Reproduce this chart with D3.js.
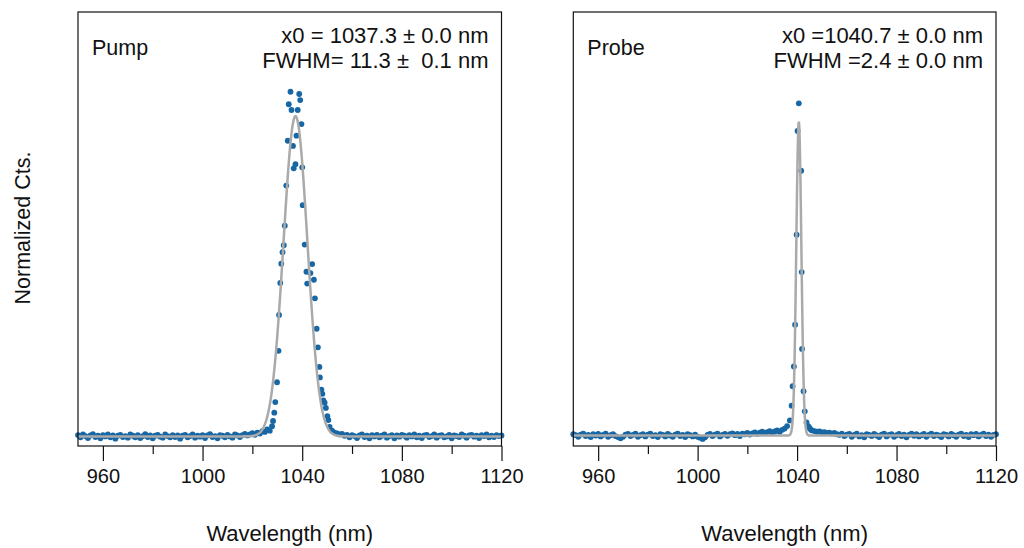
<!DOCTYPE html>
<html>
<head>
<meta charset="utf-8">
<script src="https://cdn.jsdelivr.net/npm/d3@7"></script>
<style>
body { margin:0; background:#fff; }
text { font-family:"Liberation Sans", Arial, sans-serif; fill:#111; }
</style>
</head>
<body>
<svg id="chart" width="1024" height="548"></svg>
<script>
// spectra: [wavelength (nm), normalized counts]
var pumpData = [
  [950,.004],[951,-.003],[952,.006],[953,.001],[954,-.005],[955,.003],[956,.007],[957,-.002],[958,.002],[959,-.006],
  [960,.004],[961,.000],[962,.006],[963,-.003],[964,.003],[965,-.007],[966,.002],[967,.005],[968,-.002],[969,.001],
  [970,-.004],[971,.006],[972,.002],[973,-.003],[974,.004],[975,-.005],[976,.001],[977,.007],[978,-.002],[979,.003],
  [980,-.006],[981,.002],[982,.005],[983,-.001],[984,-.004],[985,.006],[986,.001],[987,-.003],[988,.004],[989,-.002],
  [990,.003],[991,-.007],[992,.002],[993,.005],[994,-.003],[995,.001],[996,.006],[997,-.004],[998,.002],[999,-.001],
  [1000,.004],[1001,-.005],[1002,.003],[1003,.007],[1004,-.002],[1005,.001],[1006,-.006],[1007,.004],[1008,.002],[1009,-.003],
  [1010,.005],[1011,.000],[1012,-.004],[1013,.006],[1014,.003],[1015,-.002],[1016,.004],[1017,.008],[1018,.003],[1019,.006],
  [1020,.010],[1021,.005],[1022,.012],[1023,.009],[1024,.016],[1025,.014],[1026,.022],[1027,.018],
  [1027.9,.032],[1028.3,.048],[1028.8,.074],[1029.2,.107],[1029.9,.169],[1030.5,.267],[1030.7,.379],[1031.2,.479],
  [1031.6,.539],[1032.1,.575],[1032.6,.597],[1033.0,.658],[1033.6,.783],[1034.2,.923],[1034.6,1.037],[1035.3,1.076],
  [1035.7,1.019],[1036.3,.907],[1036.6,.837],[1037.3,.850],[1037.7,.939],[1038.2,1.019],[1038.8,1.069],[1039.2,1.050],
  [1039.7,.975],[1040.0,.840],[1040.2,.722],[1041.0,.599],[1041.7,.514],[1042.0,.477],[1043.3,.510],[1044.0,.538],
  [1044.7,.489],[1045.1,.431],[1045.8,.336],[1046.3,.278],[1046.9,.217],[1047.1,.184],[1047.7,.146],[1048.1,.133],
  [1048.5,.112],[1049.0,.105],[1049.5,.089],[1050.1,.063],[1050.5,.051],
  [1051,.030],[1052,.018],[1053,.012],[1054,.009],[1055,.006],[1056,.008],[1057,.002],[1058,.005],[1059,-.003],
  [1060,.004],[1061,.001],[1062,-.005],[1063,.003],[1064,.006],[1065,-.002],[1066,.002],[1067,-.006],[1068,.004],[1069,.000],
  [1070,.005],[1071,-.003],[1072,.002],[1073,.006],[1074,-.004],[1075,.001],[1076,.004],[1077,-.006],[1078,.003],[1079,-.001],
  [1080,.005],[1081,.002],[1082,-.004],[1083,.004],[1084,.000],[1085,.006],[1086,-.003],[1087,.002],[1088,-.005],[1089,.003],
  [1090,.005],[1091,-.002],[1092,.001],[1093,.006],[1094,-.004],[1095,.002],[1096,.004],[1097,-.003],[1098,.000],[1099,.005],
  [1100,-.006],[1101,.003],[1102,.001],[1103,-.002],[1104,.006],[1105,.002],[1106,-.004],[1107,.003],[1108,.005],[1109,-.001],
  [1110,.002],[1111,-.005],[1112,.004],[1113,.001],[1114,.006],[1115,-.003],[1116,.002],[1117,-.002],[1118,.004],[1119,.001],
  [1120,.003]
];

var probeData = [
  [950,.004],[951,.001],[952,-.004],[953,.003],[954,.006],[955,-.002],[956,.002],[957,-.005],[958,.004],[959,.000],
  [960,.005],[961,-.003],[962,.002],[963,.006],[964,-.004],[965,.001],[966,.004],[967,-.002],[968,-.005],[969,-.009],
  [970,-.004],[971,.003],[972,.005],[973,-.002],[974,.002],[975,.006],[976,-.004],[977,.001],[978,.004],[979,-.003],
  [980,.003],[981,.006],[982,-.002],[983,.001],[984,-.005],[985,.004],[986,.002],[987,-.003],[988,.005],[989,.000],
  [990,-.004],[991,.003],[992,.006],[993,-.002],[994,.002],[995,-.005],[996,.004],[997,.001],[998,-.003],[999,.003],
  [1000,-.004],[1001,-.007],[1002,-.011],[1003,-.006],[1004,.002],[1005,.005],[1006,-.002],[1007,.003],[1008,.006],[1009,-.003],
  [1010,.002],[1011,.005],[1012,-.001],[1013,.004],[1014,.007],[1015,.001],[1016,.005],[1017,-.002],[1018,.006],[1019,.004],
  [1020,.008],[1021,.003],[1022,.007],[1023,.010],[1024,.005],[1025,.009],[1026,.012],[1027,.007],[1028,.011],[1029,.014],
  [1030,.009],[1031,.013],[1032,.016],[1033,.012],[1034,.018],[1035,.022],[1036,.030],
  [1037.1,.048],[1037.8,.095],[1038.2,.157],[1038.7,.220],[1039.2,.353],[1039.8,.640],[1040.2,.971],[1040.7,1.059],
  [1041.65,.844],[1041.85,.521],[1042.0,.276],[1042.6,.141],[1043.1,.077],[1043.8,.042],
  [1044.5,.030],[1045,.024],[1045.5,.019],[1046,.016],[1047,.014],[1048,.012],[1049,.013],
  [1050,.010],[1051,.011],[1052,.008],[1053,.009],[1054,.006],[1055,.008],[1056,.004],[1057,.002],[1058,.006],[1059,-.002],
  [1060,.003],[1061,.005],[1062,-.004],[1063,.002],[1064,.006],[1065,-.003],[1066,.001],[1067,-.006],[1068,.004],[1069,.002],
  [1070,-.002],[1071,.005],[1072,.000],[1073,-.005],[1074,.003],[1075,.006],[1076,-.003],[1077,.002],[1078,.004],[1079,-.004],
  [1080,.001],[1081,.005],[1082,-.002],[1083,.003],[1084,-.006],[1085,.002],[1086,.006],[1087,-.001],[1088,.004],[1089,-.003],
  [1090,.001],[1091,.005],[1092,-.004],[1093,.002],[1094,.006],[1095,-.002],[1096,.003],[1097,.000],[1098,-.005],[1099,.004],
  [1100,.002],[1101,-.003],[1102,.005],[1103,.001],[1104,-.004],[1105,.003],[1106,.006],[1107,-.002],[1108,.002],[1109,-.005],
  [1110,.004],[1111,.001],[1112,.005],[1113,-.003],[1114,.002],[1115,.006],[1116,-.002],[1117,.003],[1118,-.004],[1119,.002],
  [1120,.004]
];

// gaussian fits: x0, fwhm, amplitude
var pumpFit = [1037.3, 11.3, 1.0];
var probeFit = [1040.7, 2.4, 1.0];

var pumpLabels = ["Pump", "x0 = 1037.3 ± 0.0 nm", "FWHM= 11.3 ±  0.1 nm"];
var probeLabels = ["Probe", "x0 =1040.7 ± 0.0 nm", "FWHM =2.4 ± 0.0 nm"];

var xLimits = [950, 1120];
var majorTicks = [960, 1000, 1040, 1080, 1120];
var minorTicks = [980, 1020, 1060, 1100];

var svg = d3.select("#chart");

var drawPanel = function(data, fit, labels, box, yDomain)
{
  var xScale = d3.scaleLinear()
                 .domain(xLimits)
                 .range([box.left, box.right]);
  var yScale = d3.scaleLinear()
                 .domain(yDomain)
                 .range([box.bottom, box.top]);

  var panel = svg.append("g");

  // data points
  panel.selectAll("circle")
    .data(data)
    .enter()
    .append("circle")
    .attr("cx", function(d){ return xScale(d[0]); })
    .attr("cy", function(d){ return yScale(d[1]); })
    .attr("r", 2.9)
    .attr("fill", "#1767a5");

  // fit curve from the fitted parameters
  var grid = d3.range(xLimits[0], xLimits[1] + 0.001, 0.1);
  var line = d3.line()
               .x(function(d){ return xScale(d); })
               .y(function(d){
                 var u = (d - fit[0]) / fit[1];
                 return yScale(fit[2] * Math.exp(-4 * Math.LN2 * u * u));
               });
  panel.append("path")
    .datum(grid)
    .attr("d", line)
    .attr("fill", "none")
    .attr("stroke", "#aaaaaa")
    .attr("stroke-width", 2.5);

  // frame
  panel.append("rect")
    .attr("x", box.left)
    .attr("y", box.top)
    .attr("width", box.right - box.left)
    .attr("height", box.bottom - box.top)
    .attr("fill", "none")
    .attr("stroke", "#111")
    .attr("stroke-width", 1.2);

  var xAxis = d3.axisBottom(xScale)
                .tickValues(majorTicks)
                .tickSize(15)
                .tickPadding(8)
                .tickFormat(d3.format("d"));
  var gx = panel.append("g")
    .attr("transform", "translate(0," + box.bottom + ")")
    .call(xAxis);
  gx.select(".domain").remove();
  gx.selectAll("line").attr("stroke", "#111").attr("stroke-width", 1.2);
  gx.selectAll("text")
    .attr("font-size", 20)
    .attr("font-family", "Liberation Sans, Arial, sans-serif")
    .attr("fill", "#111");

  var minor = d3.axisBottom(xScale)
                .tickValues(minorTicks)
                .tickSize(8)
                .tickFormat("");
  var gm = panel.append("g")
    .attr("transform", "translate(0," + box.bottom + ")")
    .call(minor);
  gm.select(".domain").remove();
  gm.selectAll("line").attr("stroke", "#111").attr("stroke-width", 1.2);

  panel.append("text")
    .attr("x", box.left + 14)
    .attr("y", 55)
    .attr("font-size", 21.5)
    .text(labels[0]);

  panel.append("text")
    .attr("x", box.right - 13)
    .attr("y", 43)
    .attr("font-size", 22)
    .attr("text-anchor", "end")
    .style("white-space", "pre")
    .text(labels[1]);

  panel.append("text")
    .attr("x", box.right - 13)
    .attr("y", 68)
    .attr("font-size", 22)
    .attr("text-anchor", "end")
    .style("white-space", "pre")
    .text(labels[2]);

  panel.append("text")
    .attr("x", (box.left + box.right) / 2)
    .attr("y", 541)
    .attr("font-size", 22)
    .attr("text-anchor", "middle")
    .text("Wavelength (nm)");
}

drawPanel(pumpData, pumpFit, pumpLabels, {left:78, right:501.5, top:12, bottom:446}, [-0.03, 1.325]);
drawPanel(probeData, probeFit, probeLabels, {left:573.3, right:996, top:12, bottom:446}, [-0.0335, 1.35]);

svg.append("text")
  .attr("transform", "translate(30,228) rotate(-90)")
  .attr("font-size", 21.5)
  .attr("text-anchor", "middle")
  .text("Normalized Cts.");
</script>
</body>
</html>
